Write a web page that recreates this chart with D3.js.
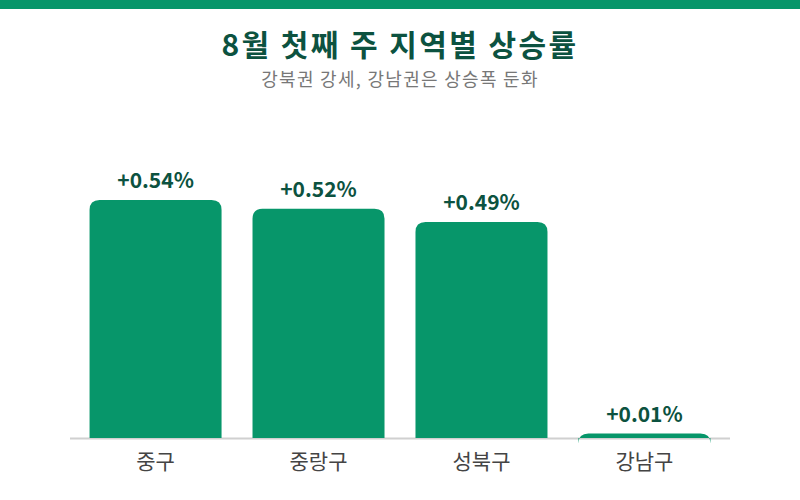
<!DOCTYPE html>
<html>
<head>
<meta charset="utf-8">
<script src="https://cdn.jsdelivr.net/npm/d3@7"></script>
<style>
    body { margin: 0; background: #fff; }
    svg { display: block; font-family: "Noto Sans CJK KR", "Noto Sans", sans-serif; }
</style>
</head>
<body>
<svg id="chart"></svg>
<script>
var districts = ["중구", "중랑구", "성북구", "강남구"];
var rates = [0.54, 0.52, 0.49, 0.01];
var rateLabels = ["+0.54%", "+0.52%", "+0.49%", "+0.01%"];

var width = 800, height = 500;
var baseY = 438;
var green = "#07966a", dark = "#0c5240";

var svg = d3.select("#chart").attr("width", width).attr("height", height);

// top band
svg.append("rect").attr("x", 0).attr("y", 0)
    .attr("width", width).attr("height", 9).attr("fill", green);

svg.append("text")
    .attr("x", width / 2).attr("y", 56)
    .attr("text-anchor", "middle")
    .attr("font-size", 30).attr("font-weight", "bold")
    .attr("letter-spacing", 2.4)
    .attr("fill", dark)
    .text("8월 첫째 주 지역별 상승률");

svg.append("text")
    .attr("x", width / 2).attr("y", 86)
    .attr("text-anchor", "middle")
    .attr("font-size", 18)
    .attr("letter-spacing", 1.3)
    .attr("fill", "#777")
    .text("강북권 강세, 강남권은 상승폭 둔화");

var x = d3.scaleBand().domain(districts).range([70, 730])
    .paddingInner(0.19).paddingOuter(0.12);
var y = d3.scaleLinear().domain([0, 0.54]).range([baseY, 200]);

// bar with rounded top corners (radius not clamped)
function barPath(d, i) {
    var r = 10, x0 = x(districts[i]), w = x.bandwidth(), top = y(d);
    return "M" + x0 + "," + baseY +
        "V" + (top + r) +
        "Q" + x0 + "," + top + " " + (x0 + r) + "," + top +
        "H" + (x0 + w - r) +
        "Q" + (x0 + w) + "," + top + " " + (x0 + w) + "," + (top + r) +
        "V" + baseY + "Z";
}

svg.append("line")
    .attr("x1", 70).attr("x2", 730)
    .attr("y1", baseY + 0.5).attr("y2", baseY + 0.5)
    .attr("stroke", "#d0d0d0").attr("stroke-width", 2);

svg.selectAll("path.bar")
    .data(rates)
    .enter()
    .append("path")
    .attr("class", "bar")
    .attr("d", barPath)
    .attr("fill", green);

svg.selectAll("text.val")
    .data(rates)
    .enter()
    .append("text")
    .attr("class", "val")
    .attr("x", function (d, i) { return x(districts[i]) + x.bandwidth() / 2; })
    .attr("y", function (d) { return y(d) - 12; })
    .attr("text-anchor", "middle")
    .attr("font-size", 21).attr("font-weight", "bold")
    .attr("fill", dark)
    .text(function (d, i) { return rateLabels[i]; });

var xAxis = svg.append("g")
    .attr("transform", "translate(0," + baseY + ")")
    .call(d3.axisBottom(x).tickSize(0).tickPadding(16));
xAxis.select(".domain").remove();
xAxis.selectAll("text")
    .attr("font-size", 21)
    .attr("font-family", "\"Noto Sans CJK KR\", sans-serif")
    .attr("fill", "#444");
</script>
</body>
</html>
